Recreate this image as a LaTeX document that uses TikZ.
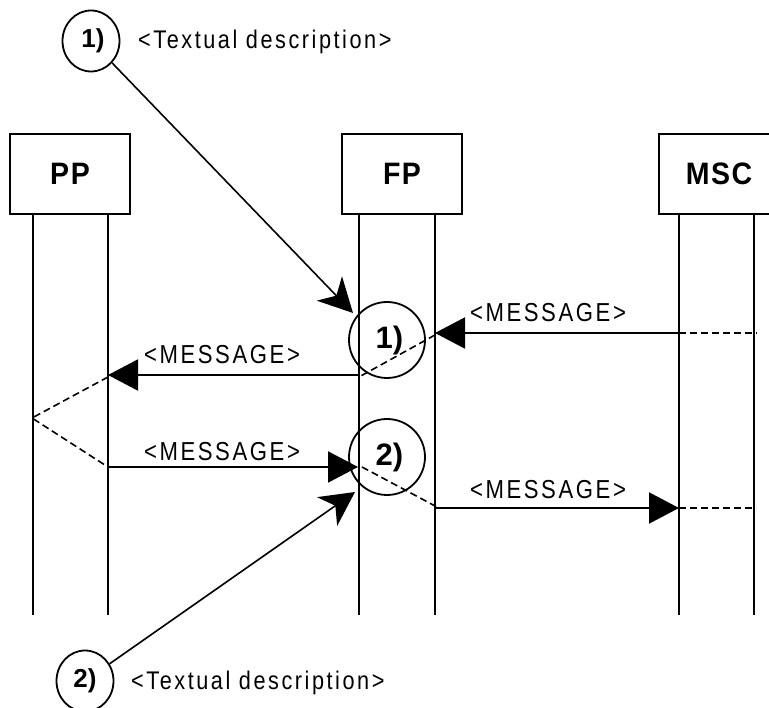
\documentclass[tikz,border=0pt]{standalone}
\usepackage{fontspec}
\setmainfont{Liberation Sans}
\newfontfamily\msgfont[FakeStretch=0.85,LetterSpace=10]{Liberation Sans}
\newfontfamily\lblfont[FakeStretch=0.92,LetterSpace=5]{Liberation Sans}
\usetikzlibrary{arrows.meta,shapes.geometric}
\begin{document}
\begin{tikzpicture}[x=1pt,y=-1pt,
  actor/.style={draw,line width=2.6pt,minimum width=120pt,minimum height=80pt,inner sep=0pt,
    font=\lblfont\fontsize{31}{34}\selectfont\bfseries},
  life/.style={line width=2pt},
  msg/.style={line width=2pt,-{Triangle[length=30pt,width=31pt]}},
  dsh/.style={line width=1.6pt,dash pattern=on 7pt off 4pt},
  msglbl/.style={font=\msgfont\fontsize{26}{30}\selectfont,inner sep=0pt},
  bigc/.style={draw,circle,line width=1.8pt,minimum size=76pt,inner sep=0pt,
    font=\fontsize{31}{33}\selectfont\bfseries},
  smallc/.style={draw,ellipse,line width=1.8pt,minimum width=57pt,minimum height=61pt,inner sep=0pt,
    font=\fontsize{26}{28}\selectfont\bfseries},
  desc/.style={font=\msgfont\fontsize{25.5}{29}\selectfont,inner sep=0pt,anchor=west},
  callout/.style={line width=1.6pt,-{Stealth[length=34pt,width=35pt,inset=10pt]}}]
\clip (0,0) rectangle (769,708);
\fill[white] (0,0) rectangle (769,708);
% actors
\node[actor] (pp) at (70,174) {PP};
\node[actor] (fp) at (402,174) {FP};
\node[actor] (msc) at (719,174) {MSC};
% lifeline coordinates
\coordinate (ppLt) at (33,214);  \coordinate (ppLb) at (33,615);
\coordinate (ppRt) at (108,214); \coordinate (ppRb) at (108,615);
\coordinate (fpLt) at (359,214); \coordinate (fpLb) at (359,615);
\coordinate (fpRt) at (435,214); \coordinate (fpRb) at (435,615);
\coordinate (msLt) at (679,214); \coordinate (msLb) at (679,615);
\coordinate (msRt) at (754,214); \coordinate (msRb) at (754,615);
\draw[life] (ppLt) -- (ppLb);
\draw[life] (ppRt) -- (ppRb);
\draw[life] (fpLt) -- (fpLb);
\draw[life] (fpRt) -- (fpRb);
\draw[life] (msLt) -- (msLb);
\draw[life] (msRt) -- (msRb);
% circles
\node[bigc] (c1) at (387,340) {\hspace*{5pt}1)};
\node[bigc] (c2) at (387,457) {\hspace*{5pt}2)};
% message points
\coordinate (a1) at (679,333); \coordinate (a1r) at (757,333);
\coordinate (a1e) at (435,333);
\coordinate (d1s) at (435,335); \coordinate (d1e) at (359,377);
\coordinate (a2s) at (359,375); \coordinate (a2e) at (108,375);
\coordinate (d2s) at (108,377); \coordinate (d2m) at (32,418); \coordinate (d2e) at (108,467);
\coordinate (a3s) at (108,467); \coordinate (a3e) at (358,467);
\coordinate (d3s) at (362,467); \coordinate (d3e) at (437,507);
\coordinate (a4s) at (435,508); \coordinate (a4e) at (679,508);
\coordinate (d4e) at (756,508);
% messages
\draw[dsh] (a1) -- (a1r);
\draw[msg] (a1) -- (a1e);
\draw[dsh] (d1s) -- (d1e);
\draw[msg] (a2s) -- (a2e);
\draw[dsh] (d2s) -- (d2m) -- (d2e);
\draw[msg] (a3s) -- (a3e);
\draw[dsh] (d3s) -- (d3e);
\draw[msg] (a4s) -- (a4e);
\draw[dsh] (a4e) -- (d4e);
\node[msglbl] (l1) at (548,313) {<MESSAGE>};
\node[msglbl] (l2) at (222,355) {<MESSAGE>};
\node[msglbl] (l3) at (222,452) {<MESSAGE>};
\node[msglbl] (l4) at (548,490) {<MESSAGE>};
% callouts
\node[smallc] (e1) at (91,41) {\hspace*{4pt}1)};
\node[smallc] (e2) at (85,681) {2)};
\node[desc] (t1) at (138,42) {<Textual description>};
\node[desc] (t2) at (131,683) {<Textual description>};
\coordinate (tip1) at (353,313);
\coordinate (tip2) at (355,492);
\draw[callout] (e1) -- (tip1);
\draw[callout] (e2) -- (tip2);
\end{tikzpicture}
\end{document}
